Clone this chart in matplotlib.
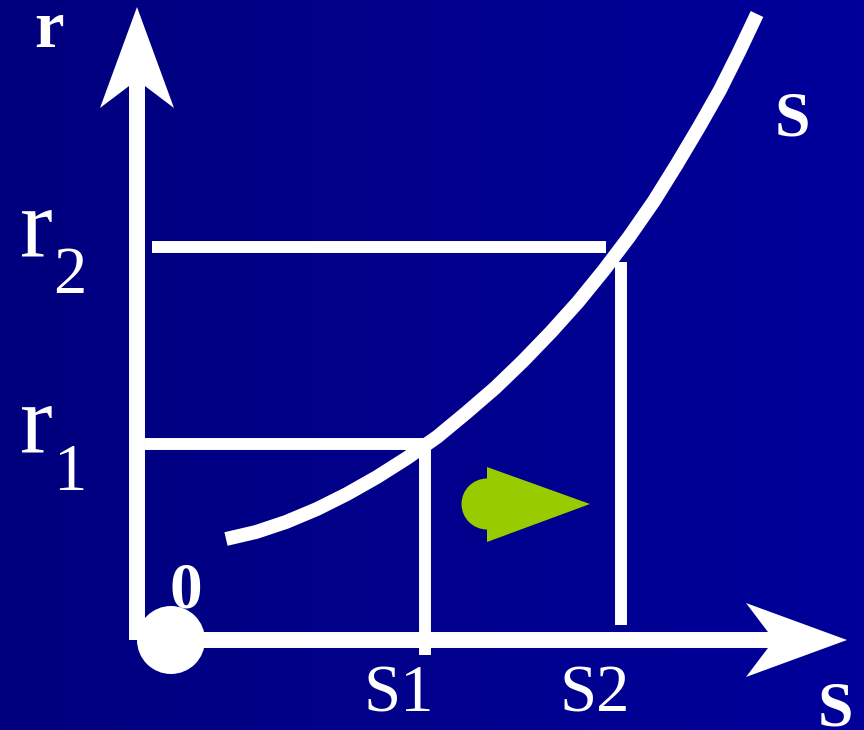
import numpy as np
import matplotlib
matplotlib.use("Agg")
import matplotlib.pyplot as plt
from matplotlib.patches import Polygon, Circle, Wedge
from matplotlib.colors import LinearSegmentedColormap

# ---- data (diagram units: origin at axes crossing) ----
curve_s = [89, 119, 149, 180, 210, 240, 270, 300, 329, 358, 386,
           414, 441, 467, 492, 517, 540, 562, 583, 602, 620]
curve_r = [101, 108, 118, 131, 146, 163, 182, 203, 227, 252, 279,
           308, 338, 370, 403, 439, 476, 513, 550, 588, 626]
r_levels = [196, 393]          # r1, r2
s_levels = [288, 484]          # S1, S2
r_labels = ["1", "2"]
s_labels = ["S1", "S2"]

# ---- style ----
BG_LEFT, BG_RIGHT = "#00007e", "#00009a"
WHITE = "white"
GREEN = "#99cc00"
SERIF = ["Liberation Serif", "DejaVu Serif"]

fig = plt.figure(figsize=(8.64, 7.30), dpi=100)
ax = fig.add_axes([0, 0, 1, 1])
ax.set_xlim(-137, 727)
ax.set_ylim(-90, 640)
ax.axis("off")

# background gradient
cmap = LinearSegmentedColormap.from_list("bg", [BG_LEFT, BG_RIGHT])
grad = np.linspace(0, 1, 256).reshape(1, -1)
ax.imshow(grad, extent=[-137, 727, -90, 640], aspect="auto", cmap=cmap, zorder=0)

# axes with arrowheads
AX_LW = 11.5
HEAD_LEN, HEAD_HALF, NOTCH = 101, 37, 73
y_tip = 633
x_tip = 710
ax.plot([0, 0], [0, y_tip - NOTCH + 2], color=WHITE, lw=AX_LW, solid_capstyle="butt", zorder=3)
ax.add_patch(Polygon([[0, y_tip], [HEAD_HALF, y_tip - HEAD_LEN], [0, y_tip - NOTCH],
                      [-HEAD_HALF, y_tip - HEAD_LEN]], closed=True, color=WHITE, lw=0, zorder=3))
ax.plot([30, x_tip - NOTCH + 2], [0, 0], color=WHITE, lw=AX_LW, solid_capstyle="butt", zorder=3)
ax.add_patch(Polygon([[x_tip, 0], [x_tip - HEAD_LEN, HEAD_HALF], [x_tip - NOTCH, 0],
                      [x_tip - HEAD_LEN, -HEAD_HALF]], closed=True, color=WHITE, lw=0, zorder=3))

# origin dot
ax.add_patch(Circle((34, 0), 34, color=WHITE, lw=0, zorder=4))

# horizontal lines at r1, r2
LINE_LW = 8.6
ax.plot([8, 287], [r_levels[0], r_levels[0]], color=WHITE, lw=LINE_LW, solid_capstyle="butt", zorder=2)
ax.plot([15, 469], [r_levels[1], r_levels[1]], color=WHITE, lw=LINE_LW, solid_capstyle="butt", zorder=2)
# vertical lines at S1, S2
ax.plot([s_levels[0], s_levels[0]], [199, -15], color=WHITE, lw=LINE_LW, solid_capstyle="butt", zorder=2)
ax.plot([s_levels[1], s_levels[1]], [378, 15], color=WHITE, lw=LINE_LW, solid_capstyle="butt", zorder=2)

# supply curve
ax.plot(curve_s, curve_r, color=WHITE, lw=10, solid_capstyle="butt", solid_joinstyle="round", zorder=3)

# green shift arrow
ax.add_patch(Wedge((350, 136), 25.5, 90, 270, color=GREEN, lw=0, zorder=3))
ax.add_patch(Polygon([[350, 173], [453, 136], [350, 98]], closed=True, color=GREEN, lw=0, zorder=3))

# texts
ax.text(-88, 593, "r", family=SERIF, fontsize=48, fontweight="bold", color=WHITE,
        ha="center", va="baseline", zorder=5)
for lvl, lab in zip(r_levels, r_labels):
    ax.text(-117, lvl - 9, "r", family=SERIF, fontsize=71, color=WHITE, ha="left", va="baseline", zorder=5)
    ax.text(-84, lvl - 46, lab, family=SERIF, fontsize=48, color=WHITE, ha="left", va="baseline", zorder=5)
ax.text(49, 33, "0", family=SERIF, fontsize=47, fontweight="bold", color=WHITE,
        ha="center", va="baseline", zorder=5)
for lvl, lab in zip(s_levels, s_labels):
    ax.text(lvl - 26, -71, lab, family=SERIF, fontsize=48, color=WHITE, ha="center", va="baseline", zorder=5)
ax.text(655, 504, "S", family=SERIF, fontsize=46, fontweight="bold", color=WHITE,
        ha="center", va="baseline", zorder=5)
ax.text(698, -86, "S", family=SERIF, fontsize=46, fontweight="bold", color=WHITE,
        ha="center", va="baseline", zorder=5)

fig.savefig("out.png", dpi=100)
